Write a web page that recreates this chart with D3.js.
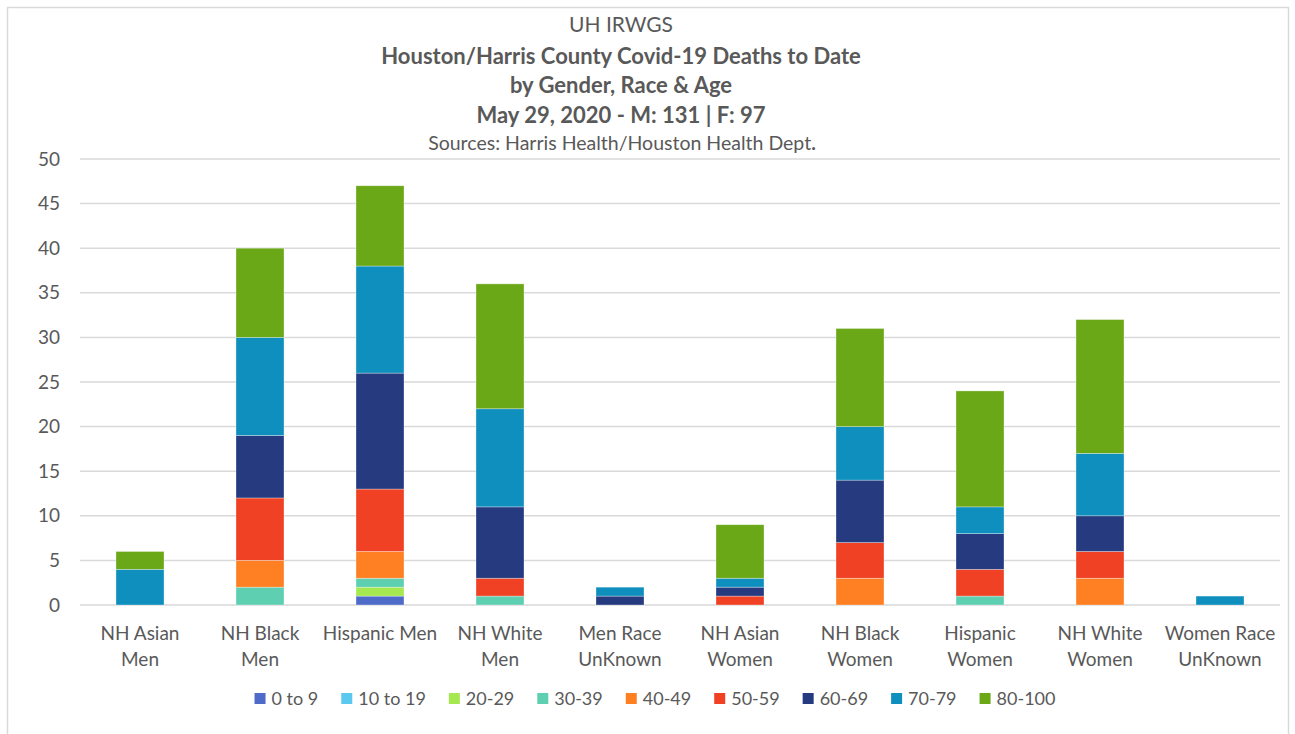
<!DOCTYPE html>
<html>
<head>
<meta charset="utf-8">
<script src="https://cdn.jsdelivr.net/npm/d3@7"></script>
<style>
  body { margin: 0; background: #fff; }
  text { font-family: Lato, "Open Sans", sans-serif; fill: #595959; }
</style>
</head>
<body>
<div id="chart"></div>
<script>
// categories (each label is split into two lines)
const groups = [
    ["NH Asian", "Men"], ["NH Black", "Men"], ["Hispanic Men", ""], ["NH White", "Men"],
    ["Men Race", "UnKnown"], ["NH Asian", "Women"], ["NH Black", "Women"],
    ["Hispanic", "Women"], ["NH White", "Women"], ["Women Race", "UnKnown"]
];
const ageBands = ["0 to 9", "10 to 19", "20-29", "30-39", "40-49", "50-59", "60-69", "70-79", "80-100"];
const bandColors = ["#4f6bca", "#5bc8f0", "#a6e84f", "#5ecfb1", "#ff8022", "#f04124", "#263a80", "#0f8fbd", "#6aa817"];

// deaths per group, one array per age band (same order as groups)
const age0to9   = [0, 0, 1, 0, 0, 0, 0, 0, 0, 0];
const age10to19 = [0, 0, 0, 0, 0, 0, 0, 0, 0, 0];
const age20to29 = [0, 0, 1, 0, 0, 0, 0, 0, 0, 0];
const age30to39 = [0, 2, 1, 1, 0, 0, 0, 1, 0, 0];
const age40to49 = [0, 3, 3, 0, 0, 0, 3, 0, 3, 0];
const age50to59 = [0, 7, 7, 2, 0, 1, 4, 3, 3, 0];
const age60to69 = [0, 7, 13, 8, 1, 1, 7, 4, 4, 0];
const age70to79 = [4, 11, 12, 11, 1, 1, 6, 3, 7, 1];
const age80to100 = [2, 10, 9, 14, 0, 6, 11, 13, 15, 0];

const yTicks = [0, 5, 10, 15, 20, 25, 30, 35, 40, 45, 50];

const titleLines = [
    {text: "UH IRWGS", weight: "normal", size: 21, y: 25},
    {text: "Houston/Harris County Covid-19 Deaths to Date", weight: "bold", size: 22, y: 56},
    {text: "by Gender, Race & Age", weight: "bold", size: 22, y: 85},
    {text: "May 29, 2020 - M: 131 | F: 97", weight: "bold", size: 22, y: 115}
];

const W = 1295, H = 734;
const margin = {top: 159, right: 15, bottom: 129, left: 80};
const width = W - margin.left - margin.right;
const height = H - margin.top - margin.bottom;

const series = [age0to9, age10to19, age20to29, age30to39, age40to49, age50to59, age60to69, age70to79, age80to100];
const table = groups.map((g, i) => {
    let row = {key: i};
    ageBands.forEach((b, j) => { row[b] = series[j][i]; });
    return row;
});

const svg = d3.select("#chart").append("svg")
    .attr("width", W)
    .attr("height", H);

// chart frame
svg.append("rect")
    .attr("x", 7.5).attr("y", 7.5)
    .attr("width", 1281).attr("height", 740)
    .attr("fill", "none")
    .attr("stroke", "#d9d9d9")
    .attr("stroke-width", 1.5);

// titles
svg.selectAll(".title")
    .data(titleLines)
    .enter().append("text")
    .attr("class", "title")
    .attr("x", 621)
    .attr("y", d => d.y)
    .attr("dy", "0.35em")
    .attr("text-anchor", "middle")
    .attr("font-size", d => d.size)
    .attr("font-weight", d => d.weight)
    .text(d => d.text);

let src = svg.append("text")
    .attr("x", 622).attr("y", 143).attr("dy", "0.35em")
    .attr("text-anchor", "middle")
    .attr("font-size", 19.5);
src.append("tspan").text("Sources: Harris Health/Houston Health Dept");
src.append("tspan").attr("font-weight", "bold").text(".");

const g = svg.append("g")
    .attr("transform", `translate(${margin.left},${margin.top})`);

// scales
const x = d3.scaleBand()
    .domain(d3.range(groups.length))
    .range([0, width])
    .paddingInner(0.6)
    .paddingOuter(0.3);

const y = d3.scaleLinear()
    .domain([0, 50])
    .range([height, 0]);

// gridlines
g.append("g")
    .selectAll("line")
    .data(yTicks)
    .enter().append("line")
    .attr("x1", 0).attr("x2", width)
    .attr("y1", d => y(d)).attr("y2", d => y(d))
    .attr("stroke", "#d9d9d9")
    .attr("stroke-width", 1.5);

// y axis labels
let yAxis = d3.axisLeft(y).tickValues(yTicks).tickSize(0).tickPadding(20);
g.append("g")
    .call(yAxis)
    .call(s => s.select(".domain").remove())
    .selectAll("text")
    .attr("font-size", 19)
    .style("font-family", "Lato, sans-serif")
    .attr("fill", "#595959");

// stacked bars
const stack = d3.stack().keys(ageBands);
const stacked = stack(table);

g.selectAll(".layer")
    .data(stacked)
    .enter().append("g")
    .attr("class", "layer")
    .attr("fill", (d, i) => bandColors[i])
    .selectAll("rect")
    .data(d => d.filter(p => p[1] - p[0] > 0))
    .enter().append("rect")
    .attr("x", d => x(d.data.key))
    .attr("width", x.bandwidth())
    .attr("y", d => y(d[1]))
    .attr("height", d => y(d[0]) - y(d[1]))
    .attr("stroke", "#ffffff")
    .attr("stroke-opacity", 0.45)
    .attr("stroke-width", 0.7);

// x labels
let xl = g.append("g")
    .selectAll("text")
    .data(groups)
    .enter().append("text")
    .attr("text-anchor", "middle")
    .attr("font-size", 19)
    .attr("transform", (d, i) => `translate(${x(i) + x.bandwidth() / 2},${height + 35})`);
xl.append("tspan").attr("x", 0).attr("y", 0).text(d => d[0]);
xl.append("tspan").attr("x", 0).attr("y", 26).text(d => d[1]);

// legend
const legend = svg.append("g").attr("transform", "translate(0,699)");
let items = legend.selectAll("g")
    .data(ageBands)
    .enter().append("g");
items.append("rect")
    .attr("width", 11).attr("height", 11)
    .attr("y", -6)
    .attr("fill", (d, i) => bandColors[i]);
items.append("text")
    .attr("x", 17)
    .attr("dy", "0.35em")
    .attr("font-size", 18)
    .text(d => d);

let pos = 0;
let offsets = [];
items.each(function() {
    offsets.push(pos);
    pos += 17 + this.querySelector("text").getComputedTextLength() + 23;
});
let total = pos - 23;
let start = 655 - total / 2;
items.attr("transform", (d, i) => `translate(${start + offsets[i]},0)`);
</script>
</body>
</html>
